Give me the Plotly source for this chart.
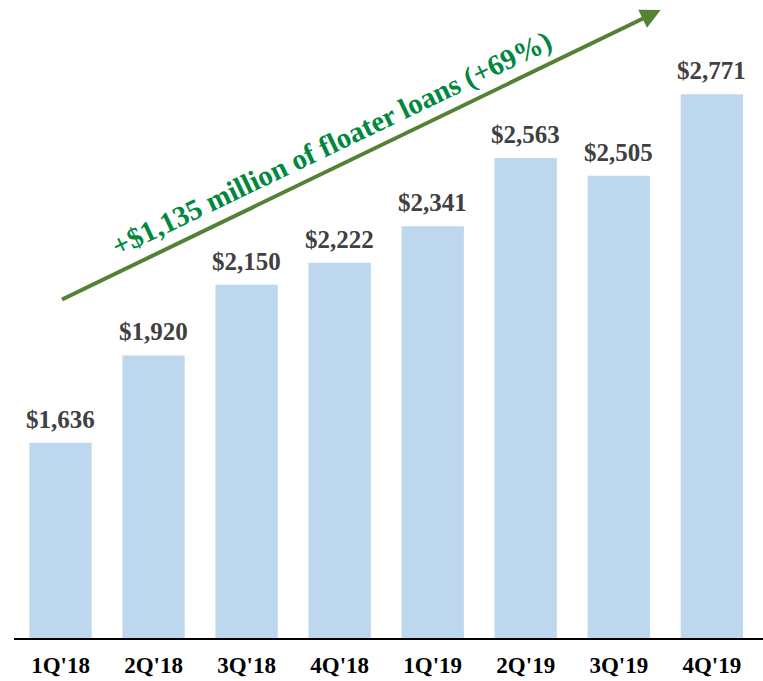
import plotly.graph_objects as go

quarters = ["1Q'18", "2Q'18", "3Q'18", "4Q'18", "1Q'19", "2Q'19", "3Q'19", "4Q'19"]
floater_loans = [1636, 1920, 2150, 2222, 2341, 2563, 2505, 2771]
growth_label = "+$1,135 million of floater loans (+69%)"

FONT = "Liberation Serif"

fig = go.Figure(go.Bar(
    x=quarters,
    y=floater_loans,
    marker=dict(color="#BDD7EE", line=dict(width=0)),
    hoverinfo="skip",
))

# value labels above bars
for q, v in zip(quarters, floater_loans):
    fig.add_annotation(
        x=q, y=v, text="<b>${:,}</b>".format(v),
        showarrow=False, yanchor="bottom", yshift=8,
        font=dict(family=FONT, size=25, color="#404040"),
    )

# growth arrow
fig.add_annotation(
    x=6.45, y=3045, ax=0, ay=2100,
    xref="x", yref="y", axref="x", ayref="y",
    text="", showarrow=True,
    arrowhead=2, arrowsize=1, arrowwidth=4, arrowcolor="#548235",
)
fig.add_annotation(
    x=2.92, y=2610, xref="x", yref="y",
    text="<b>" + growth_label + "</b>", showarrow=False,
    textangle=-25.6,
    font=dict(family=FONT, size=29, color="#00883F"),
)

fig.update_layout(
    width=763, height=681,
    margin=dict(l=14, r=0, t=10, b=43),
    bargap=0.33,
    paper_bgcolor="white",
    plot_bgcolor="white",
    showlegend=False,
)
fig.update_xaxes(
    range=[-0.5, 7.55],
    showline=True, linecolor="black", linewidth=2,
    ticks="", ticklabelstandoff=5,
    tickfont=dict(family=FONT, size=23, color="black"),
    tickprefix="<b>", ticksuffix="</b>",
)
fig.update_yaxes(
    range=[1000, 3045], visible=False, showgrid=False, zeroline=False,
)

fig.write_html("out.html", config={"displayModeBar": False},
               post_script="document.body.style.margin='0';")
